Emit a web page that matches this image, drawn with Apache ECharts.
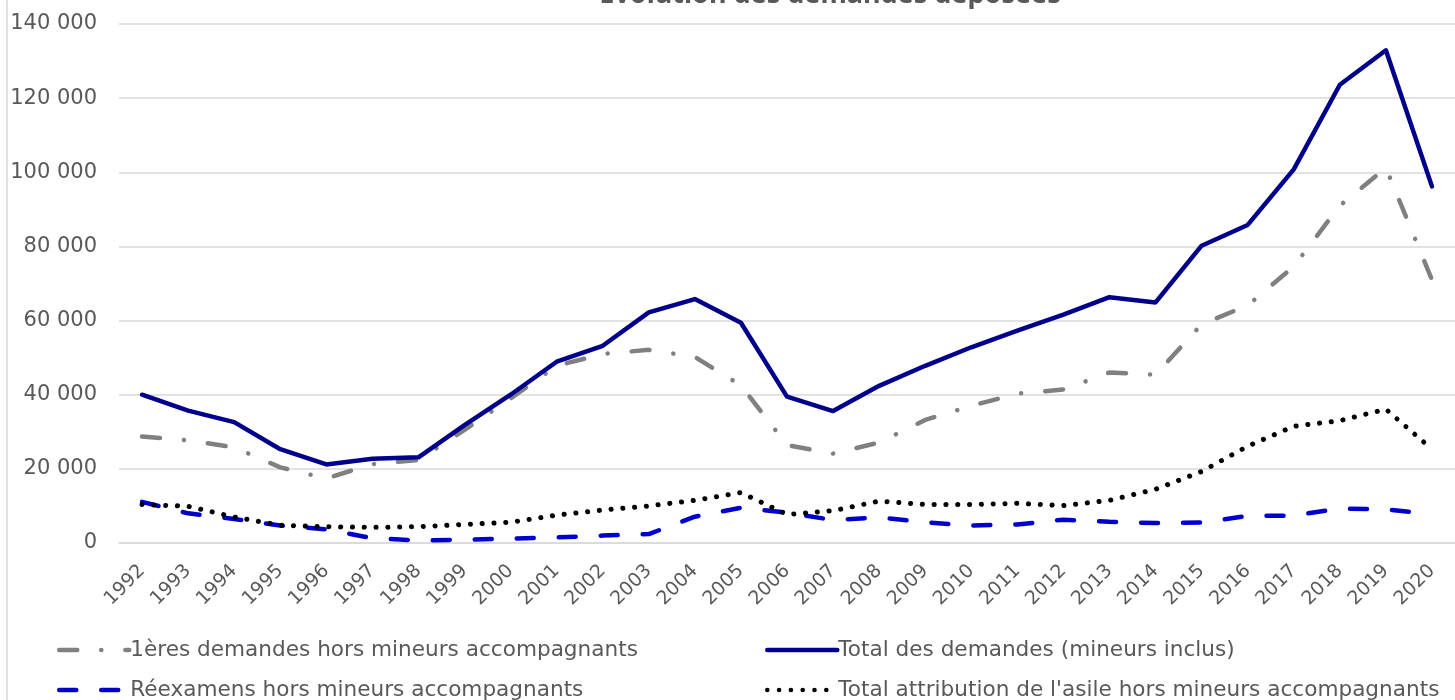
<!DOCTYPE html>
<html>
<head>
<meta charset="utf-8">
<script src="https://cdn.jsdelivr.net/npm/echarts@6/dist/echarts.min.js"></script>
<style>html,body{margin:0;padding:0;background:#fff;}#c{width:1455px;height:700px;}</style>
</head>
<body>
<div id="c"></div>
<script>
var years = ['1992','1993','1994','1995','1996','1997','1998','1999','2000','2001','2002','2003','2004','2005','2006','2007','2008','2009','2010','2011','2012','2013','2014','2015','2016','2017','2018','2019','2020'];
var premieresDemandes = [28700,27700,25800,20400,17400,21300,22400,30500,39000,47800,51000,52100,50200,42500,26400,24100,27100,33200,37000,40300,41400,46000,45400,59000,64100,74600,91000,101200,71000];
var totalDemandes = [40000,35700,32600,25300,21200,22700,23100,31800,40000,48900,53200,62200,65800,59400,39500,35600,42400,47800,52800,57300,61600,66300,64900,80200,85800,100800,123600,132900,96200];
var reexamens = [11100,8000,6500,4700,3700,1300,700,900,1200,1500,2000,2400,7100,9500,8200,6200,6900,5600,4700,5000,6300,5700,5400,5500,7300,7400,9300,9100,7700];
var totalAttribution = [10400,9900,7000,4800,4400,4200,4400,5000,5600,7500,8900,10000,11500,13600,7700,8700,11300,10400,10400,10700,10100,11500,14500,19300,26100,31500,33000,36100,25300];
var names = ['1ères demandes hors mineurs accompagnants','Total des demandes (mineurs inclus)','Réexamens hors mineurs accompagnants',"Total attribution de l'asile hors mineurs accompagnants"];
var yTicks = {min: 0, max: 140000, interval: 20000};

var chart = echarts.init(document.getElementById('c'), null, {renderer: 'canvas'});
var font = 'DejaVu Sans';
var txt = '#595959';
function fmt(v){ return String(v).replace(/\B(?=(\d{3})+(?!\d))/g, ' '); }
function legendAt(name, left, top){
  return {data: [name], left: left, top: top, itemWidth: 70, itemHeight: 14, itemGap: 5,
    itemStyle: {opacity: 0},
    lineStyle: {width: 4.5, cap: 'round'},
    textStyle: {fontFamily: font, fontSize: 21.6, color: txt, padding: [0, 0, 0, -4]}, selectedMode: false};
}
chart.setOption({
  animation: false,
  backgroundColor: '#fff',
  title: {text: 'Évolution des demandes déposées', left: 825, top: -23, textAlign: 'center',
    textStyle: {fontFamily: 'Noto Sans', fontSize: 27, fontWeight: 'bold', color: txt}},
  graphic: [{type: 'line', shape: {x1: 7, y1: 0, x2: 7, y2: 700}, style: {stroke: '#d9d9d9', lineWidth: 1.5}}],
  grid: {left: 119, top: 24, width: 1345, height: 519},
  legend: [
    legendAt(names[0], 52, 634),
    legendAt(names[2], 52, 674),
    legendAt(names[1], 760, 634),
    legendAt(names[3], 760, 674)
  ],
  xAxis: {type: 'category', data: years, boundaryGap: true,
    axisLine: {lineStyle: {color: '#d9d9d9', width: 1.5}}, axisTick: {show: false},
    axisLabel: {rotate: 45, margin: 25, fontFamily: font, fontSize: 19, color: txt, interval: 0}},
  yAxis: {type: 'value', min: yTicks.min, max: yTicks.max, interval: yTicks.interval,
    axisLine: {show: false}, axisTick: {show: false},
    splitLine: {lineStyle: {color: '#d9d9d9', width: 1.5}},
    axisLabel: {margin: 22, fontFamily: font, fontSize: 21, color: txt, formatter: fmt}},
  series: [
    {name: names[0], type: 'line', data: premieresDemandes, symbol: 'none',
      lineStyle: {color: '#808080', width: 4.5, type: [18, 24, 0.1, 24], cap: 'round'}, itemStyle: {color: '#808080'}},
    {name: names[2], type: 'line', data: reexamens, symbol: 'none',
      lineStyle: {color: '#0000CC', width: 4.5, type: [17, 25], cap: 'round'}, itemStyle: {color: '#0000CC'}},
    {name: names[1], type: 'line', data: totalDemandes, symbol: 'none',
      lineStyle: {color: '#00008B', width: 4.5, type: 'solid', cap: 'round', join: 'round'}, itemStyle: {color: '#00008B'}},
    {name: names[3], type: 'line', data: totalAttribution, symbol: 'none',
      lineStyle: {color: '#000000', width: 5, type: [0.1, 11.7], cap: 'round'}, itemStyle: {color: '#000000'}}
  ]
});
</script>
</body>
</html>
